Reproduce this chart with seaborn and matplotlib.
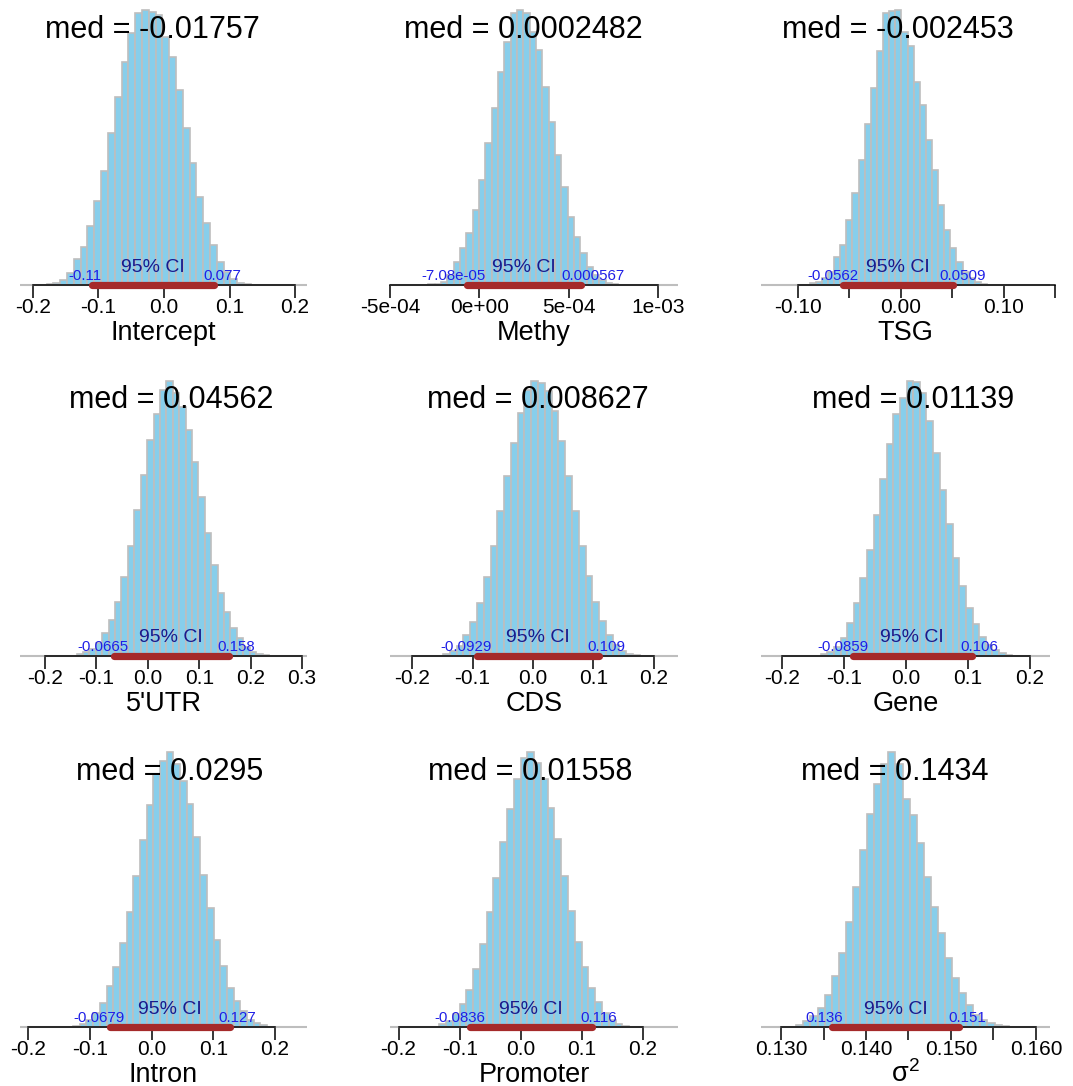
import numpy as np
import pandas as pd
import matplotlib
matplotlib.use("Agg")
import matplotlib.pyplot as plt
import seaborn as sns
from matplotlib.transforms import ScaledTranslation

# ---------------- data ----------------
names = ["Intercept", "Methy", "TSG", "5'UTR", "CDS", "Gene", "Intron", "Promoter", r"$\mathrm{\sigma}^2$"]
med_labels = ["-0.01757", "0.0002482", "-0.002453", "0.04562", "0.008627", "0.01139", "0.0295", "0.01558", "0.1434"]
med_values = [-0.01757, 0.0002482, -0.002453, 0.04562, 0.008627, 0.01139, 0.0295, 0.01558, 0.1434]
ci_low = [-0.11, -7.08e-05, -0.0562, -0.0665, -0.0929, -0.0859, -0.0679, -0.0836, 0.136]
ci_high = [0.077, 0.000567, 0.0509, 0.158, 0.109, 0.106, 0.127, 0.116, 0.151]
ci_low_labels = ["-0.11", "-7.08e-05", "-0.0562", "-0.0665", "-0.0929", "-0.0859", "-0.0679", "-0.0836", "0.136"]
ci_high_labels = ["0.077", "0.000567", "0.0509", "0.158", "0.109", "0.106", "0.127", "0.116", "0.151"]

# range of the posterior samples (extent of the histogram baseline)
sample_min = [-0.2198, -5.0e-4, -0.136, -0.2486, -0.2364, -0.2339, -0.213, -0.2139, 0.12765]
sample_max = [0.2183, 1.112e-3, 0.1451, 0.3097, 0.2397, 0.2323, 0.2518, 0.2571, 0.16165]

# left edge of the first visible histogram bin
hist_start = [-0.1791, -2.856e-4, -0.0887, -0.1385, -0.1487, -0.1376, -0.1270, -0.1334, 0.1318]

# relative bar heights (density, arbitrary units)
h_intercept = [3, 7, 15, 35, 77, 115, 177, 252, 343, 455, 563, 670, 755, 817, 825, 820, 810, 745, 685,
               585, 470, 365, 265, 185, 120, 70, 40, 17, 7, 3, 1]
h_methy = [2, 4, 10, 30, 70, 110, 155, 225, 315, 425, 530, 640, 730, 815, 825, 815, 760, 705, 595, 490,
           390, 295, 205, 145, 95, 55, 30, 15, 7, 3]
h_tsg = [5, 10, 20, 40, 85, 120, 195, 277, 377, 483, 593, 705, 817, 823, 827, 760, 720, 610, 540, 435,
         345, 240, 165, 110, 70, 40, 20, 10, 4]
h_utr5 = [5, 12, 22, 40, 68, 108, 163, 238, 330, 438, 543, 650, 728, 798, 826, 790, 748, 678, 583, 478,
          368, 273, 188, 133, 83, 53, 28, 13, 6, 2]
h_cds = [6, 14, 30, 62, 102, 160, 238, 330, 436, 540, 640, 730, 800, 826, 820, 795, 735, 645, 540, 435,
         330, 240, 162, 105, 62, 32, 15, 6, 2]
h_gene = [5, 12, 28, 53, 98, 158, 233, 318, 423, 533, 638, 728, 775, 826, 822, 790, 705, 610, 500, 395,
          295, 210, 145, 95, 58, 33, 18, 8, 3]
h_intron = [4, 10, 22, 42, 72, 122, 180, 254, 347, 454, 562, 667, 760, 800, 827, 790, 740, 670, 572, 457,
            357, 262, 182, 117, 77, 47, 22, 12, 5]
h_promoter = [8, 18, 38, 70, 112, 175, 250, 345, 448, 555, 656, 745, 810, 827, 795, 745, 660, 565, 455,
              350, 255, 180, 118, 75, 42, 22, 10, 4]
h_sigma2 = [7, 17, 32, 57, 97, 152, 222, 317, 422, 532, 642, 732, 792, 827, 792, 687, 637, 552, 452, 362,
            282, 207, 147, 102, 67, 37, 22, 12, 7, 3]
heights = [h_intercept, h_methy, h_tsg, h_utr5, h_cds, h_gene, h_intron, h_promoter, h_sigma2]

ticks = [
    [-0.2, -0.1, 0.0, 0.1, 0.2],
    [-5e-4, 0.0, 5e-4, 1e-3],
    [-0.10, -0.05, 0.0, 0.05, 0.10, 0.15],
    [-0.2, -0.1, 0.0, 0.1, 0.2, 0.3],
    [-0.2, -0.1, 0.0, 0.1, 0.2],
    [-0.2, -0.1, 0.0, 0.1, 0.2],
    [-0.2, -0.1, 0.0, 0.1, 0.2],
    [-0.2, -0.1, 0.0, 0.1, 0.2],
    [0.130, 0.135, 0.140, 0.145, 0.150, 0.155, 0.160],
]
tick_labels = [
    ["-0.2", "-0.1", "0.0", "0.1", "0.2"],
    ["-5e-04", "0e+00", "5e-04", "1e-03"],
    ["-0.10", "", "0.00", "", "0.10", ""],
    ["-0.2", "-0.1", "0.0", "0.1", "0.2", "0.3"],
    ["-0.2", "-0.1", "0.0", "0.1", "0.2"],
    ["-0.2", "-0.1", "0.0", "0.1", "0.2"],
    ["-0.2", "-0.1", "0.0", "0.1", "0.2"],
    ["-0.2", "-0.1", "0.0", "0.1", "0.2"],
    ["0.130", "", "0.140", "", "0.150", "", "0.160"],
]
ci_text = "95% CI"

# ---------------- style ----------------
sns.set_style("white")
plt.rcParams["font.family"] = ["Liberation Sans", "DejaVu Sans"]
plt.rcParams["mathtext.fontset"] = "custom"
plt.rcParams["mathtext.rm"] = "Liberation Sans"
plt.rcParams["mathtext.it"] = "Liberation Sans:italic"
plt.rcParams["text.color"] = "black"
plt.rcParams["axes.labelcolor"] = "black"
plt.rcParams["xtick.color"] = "black"
plt.rcParams["xtick.labelcolor"] = "black"

BAR_FILL = "#87CEEB"
BAR_EDGE = "#BEBEBE"
CI_COLOR = "#A52A2A"

W, H = 1073, 1086
fig = plt.figure(figsize=(W / 100, H / 100), dpi=100)

col_left = [8.5, 378.5, 749.5]
col_right = [318.5, 689.5, 1061.5]
row_base = [285, 656, 1027]
plot_h = 286

ci_label_items = []
for i in range(9):
    r, c = divmod(i, 3)
    left = col_left[c] / W
    width = (col_right[c] - col_left[c]) / W
    bottom = 1 - row_base[r] / H
    ax = fig.add_axes([left, bottom, width, plot_h / H])

    h = np.asarray(heights[i], dtype=float)
    bw = (ci_high[i] - ci_low[i]) / 18.0
    n = len(h)
    lo = hist_start[i]
    hi = hist_start[i] + bw * n
    centers = lo + bw * (np.arange(n) + 0.5)
    df = pd.DataFrame({"value": centers, "density": h})
    sns.histplot(data=df, x="value", weights="density", binwidth=bw, binrange=(lo, hi),
                 stat="count", color=BAR_FILL, edgecolor=BAR_EDGE, linewidth=1.2, alpha=1.0,
                 ax=ax, zorder=2)

    M = h.max()
    rng = sample_max[i] - sample_min[i]
    ax.set_xlim(sample_min[i] - 0.04 * rng, sample_max[i] + 0.04 * rng)
    ax.set_ylim(0, 1.04 * M)

    # baseline (zero-height bins) across the sample range
    ax.hlines(0, sample_min[i], sample_max[i], color=BAR_EDGE, lw=1.5, zorder=1, clip_on=False)

    # CI bar
    ax.plot([ci_low[i], ci_high[i]], [0, 0], color=CI_COLOR, lw=5.2,
            solid_capstyle="round", zorder=6, clip_on=False)

    # axis styling
    for s in ["left", "right", "top"]:
        ax.spines[s].set_visible(False)
    ax.spines["bottom"].set_bounds(ticks[i][0], ticks[i][-1])
    ax.spines["bottom"].set_linewidth(1.1)
    ax.spines["bottom"].set_color("black")
    ax.spines["bottom"].set_zorder(4)
    ax.set_yticks([])
    ax.set_ylabel("")
    ax.set_xticks(ticks[i])
    ax.set_xticklabels(tick_labels[i])
    ax.tick_params(axis="x", direction="out", length=9, width=1.1, color="black",
                   labelcolor="black", labelsize=15, pad=0.3, bottom=True)
    ax.patch.set_alpha(0)

    ax.set_xlabel(names[i], fontsize=19.5, color="black")
    ax.xaxis.label.set_verticalalignment("baseline")
    ax.xaxis.set_label_coords(0.5, -55 / plot_h)

    # median text
    ax.text(med_values[i], 0.9 * M, "med = " + med_labels[i], ha="center", va="baseline",
            fontsize=22, color="black", zorder=10)

    # CI text
    ax.text((ci_low[i] + ci_high[i]) / 2, 0, ci_text, ha="center", va="baseline",
            fontsize=14, color="#1A1A8C", zorder=10,
            transform=ax.transData + ScaledTranslation(0, 13.5 / 100, fig.dpi_scale_trans))
    tl = ax.text(ci_low[i], 0, ci_low_labels[i], ha="left", va="baseline", fontsize=10.8,
                 color="#1F1FE6", zorder=10)
    th = ax.text(ci_high[i], 0, ci_high_labels[i], ha="left", va="baseline", fontsize=10.8,
                 color="#1F1FE6", zorder=10)
    ci_label_items.append((ax, tl, 0.7))
    ci_label_items.append((ax, th, 0.3))

fig.canvas.draw()
renderer = fig.canvas.get_renderer()
for ax, t, frac in ci_label_items:
    w = t.get_window_extent(renderer).width
    t.set_transform(ax.transData + ScaledTranslation(-frac * w / fig.dpi, 5 / 100, fig.dpi_scale_trans))

fig.savefig("out.png", dpi=100)
